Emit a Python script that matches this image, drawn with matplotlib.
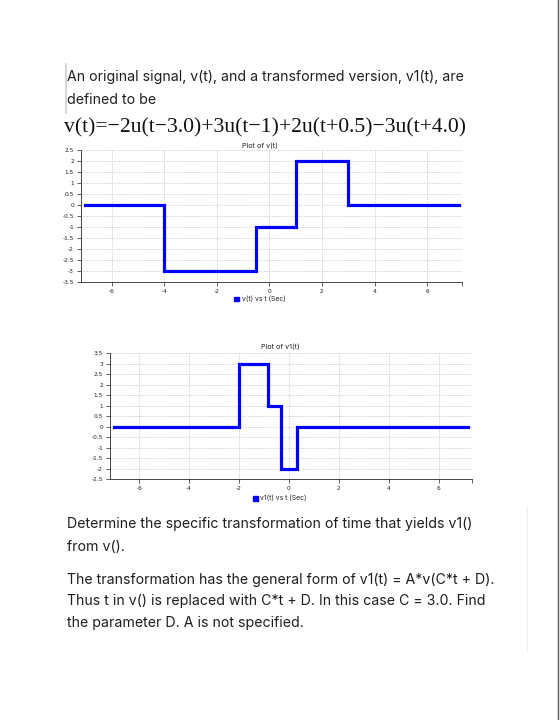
import matplotlib
matplotlib.use("Agg")
import matplotlib.pyplot as plt
from matplotlib.ticker import FixedLocator, FuncFormatter
from matplotlib.lines import Line2D
from matplotlib.patches import Rectangle

# ---- data ----
t_edges_v = [-7.0, -4.0, -0.5, 1.0, 3.0, 7.2]
v_values = [0, -3, -1, 2, 0]
t_edges_v1 = [-7.0, -2.0, -0.833, -0.333, 0.333, 7.2]
v1_values = [0, 3, 1, -2, 0]
x_ticks = [-6, -4, -2, 0, 2, 4, 6]
y_ticks_v = [2.5, 2, 1.5, 1, 0.5, 0, -0.5, -1, -1.5, -2, -2.5, -3, -3.5]
y_ticks_v1 = [3.5, 3, 2.5, 2, 1.5, 1, 0.5, 0, -0.5, -1, -1.5, -2, -2.5]
title_v = "Plot of v(t)"
title_v1 = "Plot of v1(t)"
legend_v = "v(t) vs t (Sec)"
legend_v1 = "v1(t) vs t (Sec)"

intro_lines = ["An original signal, v(t), and a transformed version, v1(t), are",
               "defined to be"]
equation = "v(t)=\u22122u(t\u22123.0)+3u(t\u22121)+2u(t+0.5)\u22123u(t+4.0)"
bottom_lines = ["Determine the specific transformation of time that yields v1()",
                "from v().",
                "The transformation has the general form of v1(t) = A*v(C*t + D).",
                "Thus t in v() is replaced with C*t + D. In this case C = 3.0. Find",
                "the parameter D. A is not specified."]

W, H = 560, 720
fig = plt.figure(figsize=(W / 100, H / 100), dpi=100)
fig.patch.set_facecolor("white")

def fx(x):
    return x / W

def fy(y):
    return 1 - y / H

BLUE = "#0000ff"
TXT = "#1f1f1f"
SANS = ["Inter", "DejaVu Sans"]

def fmt(v, pos=None):
    return "%g" % v

def make_axes(rect, edges, values, yticks, ylim, title, title_xy, legend, legend_xy):
    ax = fig.add_axes(rect)
    xs = list(edges)
    ys = list(values) + [values[-1]]
    ax.step(xs, ys, where="post", color=BLUE, lw=2.3, solid_joinstyle="miter")
    ax.set_xlim(-7.17, 7.33)
    ax.set_ylim(*ylim)
    ax.xaxis.set_major_locator(FixedLocator(x_ticks))
    ax.yaxis.set_major_locator(FixedLocator(yticks))
    ax.xaxis.set_major_formatter(FuncFormatter(fmt))
    ax.yaxis.set_major_formatter(FuncFormatter(fmt))
    ax.set_xticks([7.33], minor=True)
    ax.tick_params(axis="x", which="minor", length=3, width=0.6, color="#444444")
    ax.tick_params(axis="both", which="major", labelsize=4.2, length=3, width=0.6,
                   color="#444444", labelcolor="#222222", pad=2)
    for s in ("top", "right"):
        ax.spines[s].set_visible(False)
    for s in ("left", "bottom"):
        ax.spines[s].set_color("#444444")
        ax.spines[s].set_linewidth(0.7)
    ax.grid(True, which="major", color="#c8c8c8", lw=0.6, ls=(0, (1.5, 1.5)))
    ax.set_axisbelow(True)
    fig.text(fx(title_xy[0]), fy(title_xy[1]), title, ha="center", va="center",
             fontsize=5.2, color="#222222", family=SANS)
    # legend
    sx, sy = legend_xy
    fig.patches.append(Rectangle((fx(sx), fy(sy + 2.5)), fx(4.5), 4.5 / H,
                                 transform=fig.transFigure, color=BLUE))
    fig.text(fx(sx + 7.5), fy(sy), legend, ha="left", va="center",
             fontsize=4.9, color="#222222", family=SANS)
    return ax

make_axes([fx(81), fy(282), fx(462 - 81), (282 - 150) / H],
          t_edges_v, v_values, y_ticks_v, (-3.5, 2.5),
          title_v, (260, 146), legend_v, (234, 299))
make_axes([fx(110), fy(479), fx(471.7 - 110), (479 - 353.3) / H],
          t_edges_v1, v1_values, y_ticks_v1, (-2.5, 3.5),
          title_v1, (280, 347), legend_v1, (253, 498))

# ---- page text ----
fig.text(fx(67), fy(81), intro_lines[0], ha="left", va="baseline",
         fontsize=10.15, color=TXT, family=SANS)
fig.text(fx(67), fy(104), intro_lines[1], ha="left", va="baseline",
         fontsize=10.15, color=TXT, family=SANS)
fig.text(fx(64), fy(132), equation, ha="left", va="baseline",
         fontsize=15.6, color="#111111", family=["Liberation Serif", "DejaVu Serif"])

for y, line in zip([528, 551, 584, 605, 627], bottom_lines):
    fig.text(fx(67), fy(y), line, ha="left", va="baseline",
             fontsize=10.2, color=TXT, family=SANS)

# decorative page lines
fig.add_artist(Line2D([fx(65.7), fx(65.7)], [fy(64), fy(113)], transform=fig.transFigure,
                      color="#cfcfcf", lw=1.2))
fig.add_artist(Line2D([fx(557.5), fx(557.5)], [0, 1], transform=fig.transFigure,
                      color="#555555", lw=1.0))
fig.add_artist(Line2D([fx(527), fx(527)], [fy(507), fy(651)], transform=fig.transFigure,
                      color="#eeeeee", lw=0.8))

fig.savefig("out.png", dpi=100, facecolor="white")
